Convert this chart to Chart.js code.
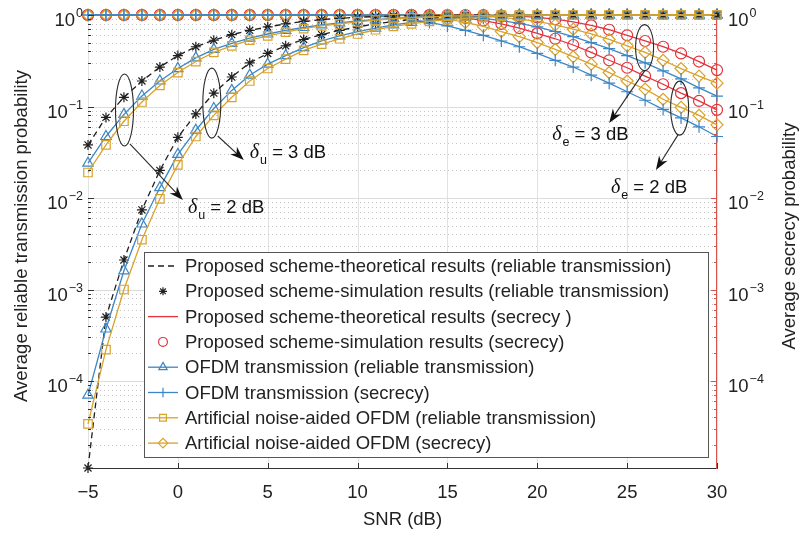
<!DOCTYPE html>
<html lang="en">
<head>
  <meta charset="UTF-8" />
  <title>Reliable transmission and secrecy probability vs SNR</title>
  <script src="https://cdn.jsdelivr.net/npm/chart.js"></script>
  <style>
    body { margin: 0; background: #fff; }
    canvas { display: block; }
  </style>
</head>
<body>
  <canvas id="snrChart" width="800" height="535"></canvas>

  <script>
    // SNR grid (dB), one point per dB
    const snr = [-5,-4,-3,-2,-1,0,1,2,3,4,5,6,7,8,9,10,11,12,13,14,15,16,17,18,19,20,21,22,23,24,25,26,27,28,29,30];

    // reliable transmission, delta_u = 2 dB (left bundle)
    const propRelA = [0.038,0.076,0.126,0.19,0.27,0.36,0.45,0.53,0.61,0.68,0.74,0.80,0.85,0.89,0.92,0.945,0.962,0.975,0.985,0.99,0.995,1,1,1,1,1,1,1,1,1,1,1,1,1,1,1];
    const ofdmRelA = [0.024,0.047,0.082,0.13,0.19,0.26,0.34,0.42,0.49,0.56,0.62,0.68,0.73,0.78,0.82,0.86,0.89,0.92,0.94,0.96,0.97,0.98,0.99,0.995,1,1,1,1,1,1,1,1,1,1,1,1];
    const anRelA   = [0.019,0.038,0.069,0.112,0.17,0.235,0.31,0.39,0.46,0.53,0.59,0.65,0.71,0.76,0.80,0.84,0.88,0.91,0.93,0.95,0.97,0.98,0.99,0.995,1,1,1,1,1,1,1,1,1,1,1,1];

    // reliable transmission, delta_u = 3 dB (right bundle)
    const propRelB = [1.12e-5,5.0e-4,2.1e-3,7.4e-3,0.02,0.046,0.083,0.14,0.21,0.30,0.38,0.46,0.54,0.61,0.68,0.74,0.80,0.85,0.89,0.92,0.95,0.97,0.98,0.99,0.995,1,1,1,1,1,1,1,1,1,1,1];
    const ofdmRelB = [7.0e-5,3.7e-4,1.6e-3,5.2e-3,0.013,0.03,0.055,0.095,0.15,0.22,0.29,0.36,0.44,0.52,0.59,0.66,0.72,0.78,0.83,0.87,0.91,0.94,0.96,0.975,0.985,0.99,0.995,1,1,1,1,1,1,1,1,1];
    const anRelB   = [3.4e-5,2.2e-4,1.0e-3,3.5e-3,0.0098,0.023,0.047,0.08,0.126,0.19,0.26,0.33,0.41,0.48,0.55,0.62,0.69,0.75,0.80,0.85,0.89,0.92,0.95,0.97,0.98,0.99,0.995,1,1,1,1,1,1,1,1,1];

    // secrecy, delta_e = 3 dB (upper bundle)
    const propSecHi = [1,1,1,1,1,1,1,1,1,1,1,1,1,1,1,1,1,1,1,1,1,1,0.995,0.985,0.97,0.94,0.90,0.84,0.77,0.69,0.60,0.52,0.45,0.38,0.31,0.25];
    const anSecHi   = [1,1,1,1,1,1,1,1,1,1,1,1,1,1,1,1,1,1,1,1,0.995,0.985,0.97,0.94,0.90,0.85,0.78,0.70,0.62,0.54,0.46,0.39,0.32,0.26,0.215,0.18];
    const ofdmSecHi = [1,1,1,1,1,1,1,1,1,1,1,1,1,1,1,1,1,1,1,0.99,0.975,0.955,0.92,0.87,0.81,0.74,0.66,0.58,0.50,0.43,0.36,0.30,0.245,0.20,0.16,0.13];

    // secrecy, delta_e = 2 dB (lower bundle)
    const propSecLo = [1,1,1,1,1,1,1,1,1,1,1,1,1,1,1,1,1,1,1,0.99,0.97,0.93,0.87,0.80,0.72,0.63,0.55,0.47,0.39,0.32,0.265,0.215,0.175,0.14,0.115,0.092];
    const anSecLo   = [1,1,1,1,1,1,1,1,1,1,1,1,1,1,1,1,1,0.99,0.98,0.95,0.90,0.83,0.75,0.66,0.58,0.50,0.42,0.35,0.29,0.235,0.19,0.155,0.12,0.098,0.08,0.063];
    const ofdmSecLo = [1,1,1,1,1,1,1,1,1,1,1,1,1,1,0.995,0.985,0.97,0.94,0.89,0.83,0.76,0.68,0.60,0.52,0.45,0.38,0.32,0.27,0.22,0.18,0.145,0.117,0.093,0.075,0.06,0.047];

    // axes
    const xTicks = [-5, 0, 5, 10, 15, 20, 25, 30];
    const yExps = [0, -1, -2, -3, -4];
    const yMin = 1.12e-5, yMax = 1;

    const FONT = '"Liberation Sans", Arial, sans-serif';
    const C_BLACK = '#1f1f1f', C_RED = '#e2333d', C_BLUE = '#3b86c6', C_YEL = '#d9a22b';
    const NONE = 'rgba(0,0,0,0)';

    const sty = {
      relTheory: { borderColor: C_BLACK, borderWidth: 1.3, borderDash: [6, 4], pointRadius: 0 },
      relSim:    { showLine: false, borderWidth: 0, pointStyle: 'star', pointRadius: 5, pointBorderColor: C_BLACK, pointBorderWidth: 1.2 },
      secTheory: { borderColor: C_RED, borderWidth: 1.3, pointRadius: 0 },
      secSim:    { showLine: false, borderWidth: 0, pointStyle: 'circle', pointRadius: 5.5, pointBorderColor: C_RED, pointBorderWidth: 1.2 },
      ofdmRel:   { borderColor: C_BLUE, borderWidth: 1.3, pointStyle: 'triangle', pointRadius: 6, pointBorderColor: C_BLUE, pointBorderWidth: 1.2 },
      ofdmSec:   { borderColor: C_BLUE, borderWidth: 1.3, pointStyle: 'cross', pointRadius: 6, pointBorderColor: C_BLUE, pointBorderWidth: 1.2 },
      anRel:     { borderColor: C_YEL, borderWidth: 1.3, pointStyle: 'rect', pointRadius: 6, pointBorderColor: C_YEL, pointBorderWidth: 1.2 },
      anSec:     { borderColor: C_YEL, borderWidth: 1.3, pointStyle: 'rectRot', pointRadius: 6, pointBorderColor: C_YEL, pointBorderWidth: 1.2 }
    };

    const legendItems = [
      ['Proposed scheme-theoretical results (reliable transmission)', sty.relTheory],
      ['Proposed scheme-simulation results (reliable transmission)', sty.relSim],
      ['Proposed scheme-theoretical results (secrecy )', sty.secTheory],
      ['Proposed scheme-simulation results (secrecy)', sty.secSim],
      ['OFDM transmission (reliable transmission)', sty.ofdmRel],
      ['OFDM transmission (secrecy)', sty.ofdmSec],
      ['Artificial noise-aided OFDM (reliable transmission)', sty.anRel],
      ['Artificial noise-aided OFDM (secrecy)', sty.anSec]
    ];

    function makeSet(values, style) {
      return Object.assign({
        data: snr.map((x, i) => ({ x: x, y: values[i] })),
        pointBackgroundColor: NONE,
        backgroundColor: NONE,
        fill: false,
        tension: 0,
        clip: false
      }, style);
    }

    const datasets = [
      makeSet(anRelA, sty.anRel), makeSet(anRelB, sty.anRel),
      makeSet(ofdmRelA, sty.ofdmRel), makeSet(ofdmRelB, sty.ofdmRel),
      makeSet(propRelA, sty.relTheory), makeSet(propRelB, sty.relTheory),
      makeSet(propRelA, sty.relSim), makeSet(propRelB, sty.relSim),
      makeSet(ofdmSecHi, sty.ofdmSec), makeSet(ofdmSecLo, sty.ofdmSec),
      makeSet(anSecHi, sty.anSec), makeSet(anSecLo, sty.anSec),
      makeSet(propSecHi, sty.secTheory), makeSet(propSecLo, sty.secTheory),
      makeSet(propSecHi, sty.secSim), makeSet(propSecLo, sty.secSim)
    ];

    // ellipse + arrow + label, anchored in data coordinates
    const notes = [
      { val: '2', sub: 'u', ell: [-2.97, 0.0916, 9, 36], from: [-2.67, 0.039], to: [0.28, 0.0095], at: [0.56, 0.0078] },
      { val: '3', sub: 'u', ell: [1.89, 0.109, 9, 35], from: [2.22, 0.0476], to: [3.67, 0.026], at: [4.0, 0.031] },
      { val: '3', sub: 'e', ell: [25.97, 0.44, 9, 23], from: [26, 0.25], to: [24, 0.066], at: [20.83, 0.049] },
      { val: '2', sub: 'e', ell: [27.92, 0.096, 9, 27], from: [27.83, 0.049], to: [26.6, 0.0202], at: [24.1, 0.0129] }
    ];

    function arrow(ctx, x1, y1, x2, y2) {
      const a = Math.atan2(y2 - y1, x2 - x1), L = 14, W = 5;
      ctx.beginPath(); ctx.moveTo(x1, y1); ctx.lineTo(x2 - 8 * Math.cos(a), y2 - 8 * Math.sin(a)); ctx.stroke();
      ctx.beginPath();
      ctx.moveTo(x2, y2);
      ctx.lineTo(x2 - L * Math.cos(a) + W * Math.sin(a), y2 - L * Math.sin(a) - W * Math.cos(a));
      ctx.lineTo(x2 - 0.7 * L * Math.cos(a), y2 - 0.7 * L * Math.sin(a));
      ctx.lineTo(x2 - L * Math.cos(a) - W * Math.sin(a), y2 - L * Math.sin(a) + W * Math.cos(a));
      ctx.closePath(); ctx.fill();
    }

    const gridPlugin = {
      id: 'matlabGrid',
      beforeDatasetsDraw(chart) {
        const { ctx, chartArea: a, scales: { x, y } } = chart;
        ctx.save();
        ctx.lineWidth = 1;
        // vertical lines
        ctx.strokeStyle = '#e2e2e2';
        xTicks.forEach(t => {
          const px = Math.round(x.getPixelForValue(t)) + 0.5;
          ctx.beginPath(); ctx.moveTo(px, a.top); ctx.lineTo(px, a.bottom); ctx.stroke();
        });
        // horizontal major + dotted minor
        for (let e = -5; e <= 0; e++) {
          for (let k = 1; k <= 9; k++) {
            const v = k * Math.pow(10, e);
            if (v < yMin || v > yMax) continue;
            const py = Math.round(y.getPixelForValue(v)) + 0.5;
            if (k === 1) { ctx.strokeStyle = '#dcdcdc'; ctx.setLineDash([]); }
            else { ctx.strokeStyle = '#c4c4c4'; ctx.setLineDash([1, 3]); }
            ctx.beginPath(); ctx.moveTo(a.left, py); ctx.lineTo(a.right, py); ctx.stroke();
          }
        }
        ctx.setLineDash([]);
        ctx.restore();
      },
      afterDraw(chart) {
        const { ctx, chartArea: a, scales: { x, y } } = chart;
        ctx.save();
        // tick marks pointing inward
        ctx.lineWidth = 1;
        ctx.strokeStyle = '#333';
        xTicks.forEach(t => {
          const px = Math.round(x.getPixelForValue(t)) + 0.5;
          ctx.beginPath(); ctx.moveTo(px, a.bottom); ctx.lineTo(px, a.bottom - 5); ctx.stroke();
        });
        for (let e = -5; e <= 0; e++) {
          for (let k = 1; k <= 9; k++) {
            const v = k * Math.pow(10, e);
            if (v < yMin || v > yMax) continue;
            const py = Math.round(y.getPixelForValue(v)) + 0.5;
            const len = k === 1 ? 6 : 3;
            ctx.strokeStyle = '#333';
            ctx.beginPath(); ctx.moveTo(a.left, py); ctx.lineTo(a.left + len, py); ctx.stroke();
            ctx.strokeStyle = '#d9534a';
            ctx.beginPath(); ctx.moveTo(a.right, py); ctx.lineTo(a.right - len, py); ctx.stroke();
          }
        }

        // y tick labels 10^n on both sides
        ctx.fillStyle = '#222';
        ctx.textBaseline = 'middle';
        yExps.forEach(e => {
          const py = y.getPixelForValue(Math.pow(10, e));
          const ex = e === 0 ? '0' : '\u2212' + (-e);
          ctx.font = '18.5px ' + FONT;
          const wb = ctx.measureText('10').width;
          ctx.font = '12.5px ' + FONT;
          const we = ctx.measureText(ex).width;
          // left
          let x0 = a.left - 6 - we - wb;
          ctx.font = '18.5px ' + FONT; ctx.textAlign = 'left';
          ctx.fillText('10', x0, py + 6);
          ctx.font = '12.5px ' + FONT;
          ctx.fillText(ex, x0 + wb + 1, py - 1);
          // right
          x0 = a.right + 11;
          ctx.font = '18.5px ' + FONT;
          ctx.fillText('10', x0, py + 6);
          ctx.font = '12.5px ' + FONT;
          ctx.fillText(ex, x0 + wb + 1, py - 1);
        });

        // axis titles
        ctx.font = '18.5px ' + FONT;
        ctx.textAlign = 'center';
        ctx.fillText('SNR (dB)', (a.left + a.right) / 2, 520);
        ctx.save();
        ctx.translate(22, 236); ctx.rotate(-Math.PI / 2);
        ctx.fillText('Average reliable transmission probability', 0, 0);
        ctx.restore();
        ctx.save();
        ctx.translate(790, 236); ctx.rotate(-Math.PI / 2);
        ctx.fillText('Average secrecy probability', 0, 0);
        ctx.restore();

        // ellipses, arrows, delta labels
        ctx.strokeStyle = '#2a2a2a'; ctx.fillStyle = '#111'; ctx.lineWidth = 1.1;
        notes.forEach(n => {
          const cx = x.getPixelForValue(n.ell[0]), cy = y.getPixelForValue(n.ell[1]);
          ctx.beginPath(); ctx.ellipse(cx, cy, n.ell[2], n.ell[3], 0, 0, Math.PI * 2); ctx.stroke();
          arrow(ctx, x.getPixelForValue(n.from[0]), y.getPixelForValue(n.from[1]),
                x.getPixelForValue(n.to[0]), y.getPixelForValue(n.to[1]));
          let tx = x.getPixelForValue(n.at[0]);
          const ty = y.getPixelForValue(n.at[1]);
          ctx.textAlign = 'left'; ctx.textBaseline = 'middle';
          ctx.font = 'italic 20px "Liberation Serif", serif';
          ctx.fillText('\u03b4', tx, ty);
          tx += ctx.measureText('\u03b4').width + 1;
          ctx.font = '12.5px ' + FONT;
          ctx.fillText(n.sub, tx, ty + 8);
          tx += ctx.measureText(n.sub).width;
          ctx.font = '18.5px ' + FONT;
          ctx.fillText(' = ' + n.val + ' dB', tx, ty);
        });

        // legend box inside the plot
        const lx = 144, ly = 252, lw = 564, lh = 205, rowH = 25.3;
        ctx.fillStyle = '#fff';
        ctx.fillRect(lx, ly, lw, lh);
        ctx.strokeStyle = '#555'; ctx.lineWidth = 1;
        ctx.strokeRect(lx + 0.5, ly + 0.5, lw, lh);
        legendItems.forEach((it, i) => {
          const [label, s] = it;
          const cy = ly + 14 + i * rowH;
          if (s.showLine !== false) {
            ctx.strokeStyle = s.borderColor; ctx.lineWidth = s.borderWidth;
            ctx.setLineDash(s.borderDash || []);
            ctx.beginPath(); ctx.moveTo(148, cy); ctx.lineTo(178, cy); ctx.stroke();
            ctx.setLineDash([]);
          }
          if (s.pointRadius > 0) {
            ctx.strokeStyle = s.pointBorderColor; ctx.fillStyle = NONE; ctx.lineWidth = s.pointBorderWidth;
            Chart.helpers.drawPoint(ctx, { pointStyle: s.pointStyle, radius: s.pointRadius * 0.8, borderWidth: s.pointBorderWidth, rotation: 0 }, 163, cy);
          }
          ctx.fillStyle = '#222'; ctx.font = '18.5px ' + FONT;
          ctx.textAlign = 'left'; ctx.textBaseline = 'middle';
          ctx.fillText(label, 185, cy + 1);
        });
        ctx.restore();
      }
    };

    new Chart(document.getElementById('snrChart'), {
      type: 'line',
      data: { datasets: datasets },
      options: {
        responsive: false,
        animation: false,
        layout: { padding: { top: 15, left: 0, right: 0, bottom: 0 } },
        plugins: { legend: { display: false }, tooltip: { enabled: false } },
        scales: {
          x: {
            type: 'linear', min: -5, max: 30,
            grid: { display: false, drawTicks: false },
            border: { display: true, color: '#333', width: 1 },
            ticks: {
              stepSize: 5, padding: 14, color: '#222',
              font: { family: FONT, size: 18.5 },
              callback: v => (v < 0 ? '\u2212' + Math.abs(v) : String(v))
            },
            afterFit: s => { s.height = 67; }
          },
          y: {
            type: 'logarithmic', position: 'left', min: yMin, max: yMax,
            grid: { display: false, drawTicks: false },
            border: { display: true, color: '#333', width: 1 },
            ticks: { display: false },
            afterFit: s => { s.width = 88; }
          },
          y2: {
            type: 'logarithmic', position: 'right', min: yMin, max: yMax, display: true,
            grid: { display: false, drawTicks: false },
            border: { display: true, color: '#d9534a', width: 1.3 },
            ticks: { display: false },
            afterFit: s => { s.width = 83; }
          }
        }
      },
      plugins: [gridPlugin]
    });
  </script>
</body>
</html>
